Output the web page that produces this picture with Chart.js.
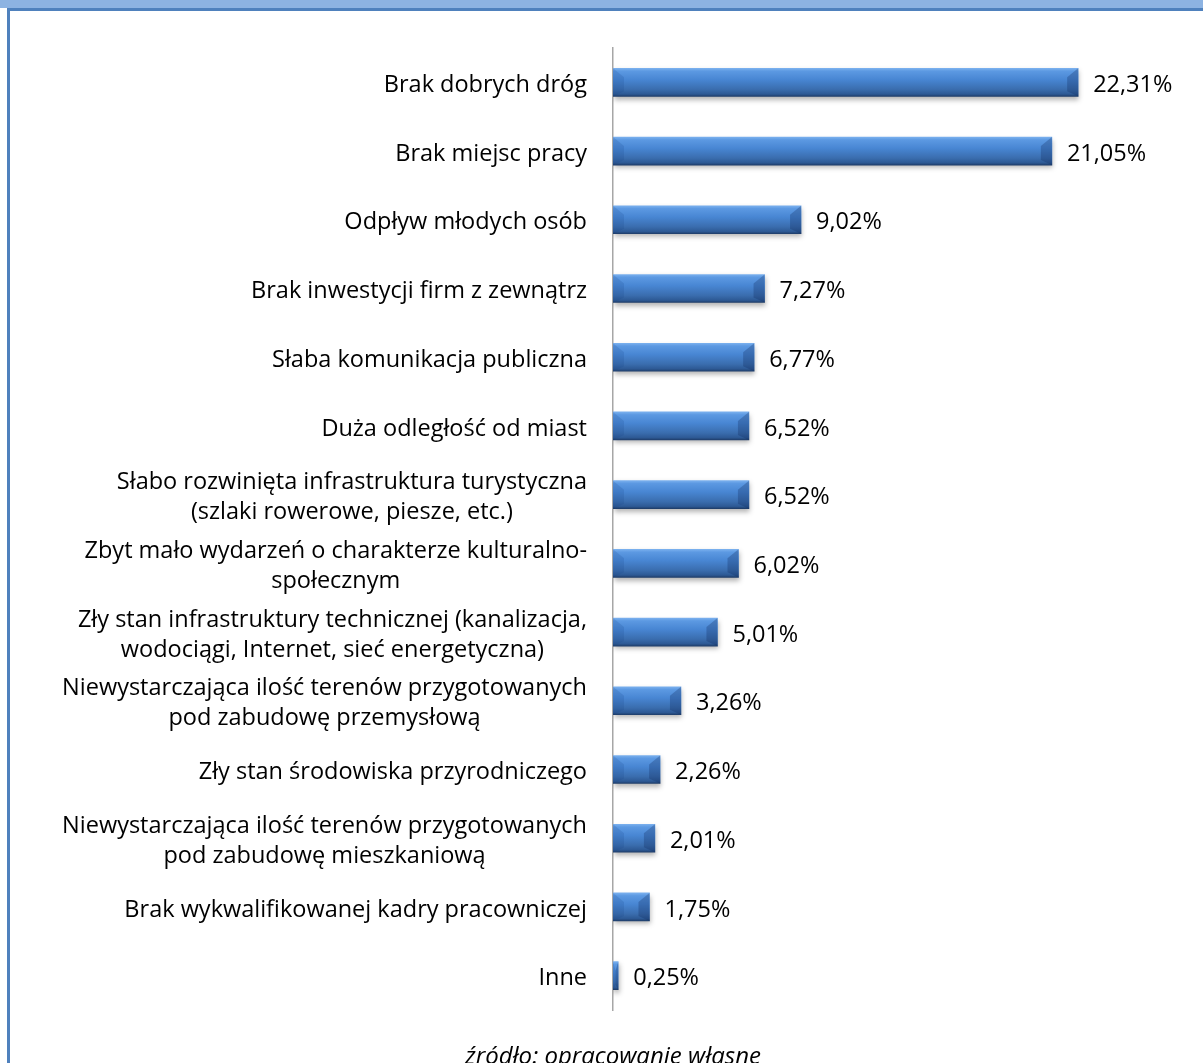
<!DOCTYPE html>
<html lang="pl">
<head>
<meta charset="utf-8">
<title>Bariery rozwoju</title>
<script src="https://cdn.jsdelivr.net/npm/chart.js@4.4.1/dist/chart.umd.min.js"></script>
<style>
    html, body { margin: 0; padding: 0; background: #fff; }
    body { width: 1203px; height: 1063px; position: relative; overflow: hidden; }
    .band { position: absolute; left: 0; top: 0; width: 1203px; height: 8px; background: #8db3e2; }
    .rule { position: absolute; left: 7px; top: 8px; width: 1196px; height: 3px; background: #4f81bd; }
    .side { position: absolute; left: 7px; top: 8px; width: 3px; height: 1055px; background: #4f81bd; }
    #wrap { position: absolute; left: 0; top: 0; width: 1203px; height: 1063px; }
    .source {
        position: absolute; left: 413px; width: 400px; top: 1038px;
        text-align: center; font: italic 24px "Open Sans", sans-serif; color: #000;
        white-space: nowrap;
    }
</style>
</head>
<body>
<div class="band"></div>
<div class="rule"></div>
<div class="side"></div>
<div id="wrap"><canvas id="chart"></canvas></div>
<div class="source">źródło: opracowanie własne</div>

<script>
// Data
const categories = [
    ['Brak dobrych dróg'],
    ['Brak miejsc pracy'],
    ['Odpływ młodych osób'],
    ['Brak inwestycji firm z zewnątrz'],
    ['Słaba komunikacja publiczna'],
    ['Duża odległość od miast'],
    ['Słabo rozwinięta infrastruktura turystyczna', '(szlaki rowerowe, piesze, etc.)'],
    ['Zbyt mało wydarzeń o charakterze kulturalno-', 'społecznym'],
    ['Zły stan infrastruktury technicznej (kanalizacja,', 'wodociągi, Internet, sieć energetyczna)'],
    ['Niewystarczająca ilość terenów przygotowanych', 'pod zabudowę przemysłową'],
    ['Zły stan środowiska przyrodniczego'],
    ['Niewystarczająca ilość terenów przygotowanych', 'pod zabudowę mieszkaniową'],
    ['Brak wykwalifikowanej kadry pracowniczej'],
    ['Inne']
];
const values = [22.31, 21.05, 9.02, 7.27, 6.77, 6.52, 6.52, 6.02, 5.01, 3.26, 2.26, 2.01, 1.75, 0.25];

const FONT = '23.5px "Open Sans", sans-serif';
const AXIS_X = 613;

const fmt = v => v.toFixed(2).replace('.', ',') + '%';

// vertical gradient for each bar, placed from the category scale
function barFill(c) {
    const y = c.chart.scales.y;
    if (!y || y.top === undefined) return '#4f81bd';
    const cy = y.getPixelForValue(c.dataIndex);
    const g = c.chart.ctx.createLinearGradient(0, cy - 14, 0, cy + 14);
    g.addColorStop(0, '#7ab0ee');
    g.addColorStop(0.1, '#5c99e2');
    g.addColorStop(0.4, '#4886d3');
    g.addColorStop(0.75, '#3a6dae');
    g.addColorStop(0.92, '#2d5994');
    g.addColorStop(1, '#1f3e6b');
    return g;
}

const barLook = {
    id: 'barLook',
    beforeDatasetDraw(chart) {
        const ctx = chart.ctx;
        ctx.save();
        ctx.shadowColor = 'rgba(0,0,0,0.3)';
        ctx.shadowBlur = 5;
        ctx.shadowOffsetY = 3;
        ctx.shadowOffsetX = 1;
    },
    afterDatasetDraw(chart) {
        const ctx = chart.ctx;
        ctx.restore();
        const meta = chart.getDatasetMeta(0);
        meta.data.forEach(bar => {
            const left = bar.base, right = bar.x;
            const top = bar.y - bar.height / 2, bottom = bar.y + bar.height / 2;
            const b = Math.min(11, (right - left) / 2);
            const poly = (pts, col) => {
                ctx.beginPath();
                ctx.moveTo(pts[0][0], pts[0][1]);
                pts.slice(1).forEach(p => ctx.lineTo(p[0], p[1]));
                ctx.closePath();
                ctx.fillStyle = col;
                ctx.fill();
            };
            ctx.save();
            poly([[left, top], [left + b, top + 9], [left + b, bottom - 5], [left, bottom]], 'rgba(20,60,130,0.16)');
            poly([[right, top], [right, bottom], [right - b, bottom - 5], [right - b, top + 9]], 'rgba(15,40,90,0.28)');
            ctx.restore();
        });
    },
    afterDraw(chart) {
        const ctx = chart.ctx;
        const meta = chart.getDatasetMeta(0);
        const yScale = chart.scales.y;
        ctx.save();
        ctx.font = FONT;
        ctx.fillStyle = '#000';
        ctx.textBaseline = 'middle';
        // value labels
        ctx.textAlign = 'left';
        meta.data.forEach((bar, i) => {
            ctx.fillText(fmt(values[i]), bar.x + 15, bar.y + 3);
        });
        // category labels: block right aligned, lines centred within the block
        ctx.textAlign = 'center';
        const lineH = 30;
        categories.forEach((lines, i) => {
            const cy = yScale.getPixelForValue(i) + 3;
            const w = Math.max(...lines.map(l => ctx.measureText(l).width));
            const cx = AXIS_X - 26 - w / 2;
            lines.forEach((l, k) => {
                ctx.fillText(l, cx, cy + (k - (lines.length - 1) / 2) * lineH);
            });
        });
        ctx.restore();
    }
};

new Chart(document.getElementById('chart'), {
    type: 'bar',
    data: {
        labels: categories,
        datasets: [{
            data: values,
            backgroundColor: barFill,
            borderWidth: 0,
            barThickness: 28
        }]
    },
    options: {
        indexAxis: 'y',
        responsive: true,
        maintainAspectRatio: false,
        animation: false,
        layout: { padding: { top: 48, bottom: 53, left: 0, right: 1203 - (AXIS_X + 25 * 20.85) } },
        plugins: {
            legend: { display: false },
            tooltip: { enabled: false }
        },
        scales: {
            x: {
                display: false,
                min: 0,
                max: 25
            },
            y: {
                grid: { display: false, drawTicks: false },
                border: { display: true, color: '#a6a6a6', width: 1.5 },
                ticks: { display: false },
                afterFit: s => { s.width = AXIS_X; }
            }
        }
    },
    plugins: [barLook]
});
</script>
</body>
</html>
